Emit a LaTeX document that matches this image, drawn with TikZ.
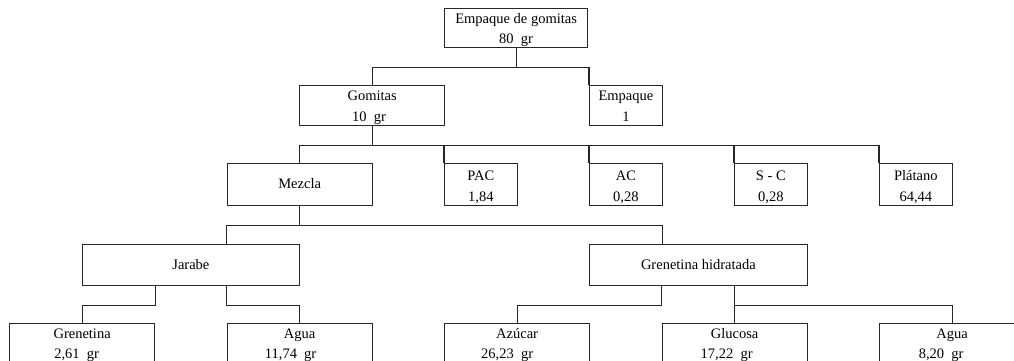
\documentclass[tikz,border=0pt]{standalone}
\usepackage{fontspec}
\setmainfont{Liberation Serif}
\newcommand\fsz{\fontsize{14.5}{17}\selectfont}
\begin{document}
\begin{tikzpicture}[x=1pt,y=-1pt,
  bx/.style={draw=black!85, line width=1.25pt, inner sep=0pt, anchor=north west},
  ln/.style={draw=black!85, line width=1.25pt},
  tx/.style={font=\fsz, anchor=base, inner sep=0pt, text=black}]
\useasboundingbox (0,0) rectangle (1014,361);
\clip (0,0) rectangle (1014,361);
% boxes
\node[bx,minimum width=143pt,minimum height=39pt] (top) at (444,8) {};
\node[bx,minimum width=145pt,minimum height=40pt] (gom) at (299,85) {};
\node[bx,minimum width=72.5pt,minimum height=40pt] (emp) at (589,85) {};
\node[bx,minimum width=145pt,minimum height=42pt] (mez) at (226.5,163) {};
\node[bx,minimum width=72.5pt,minimum height=42pt] (pac) at (444,163) {};
\node[bx,minimum width=72.5pt,minimum height=42pt] (ac) at (589,163) {};
\node[bx,minimum width=72.5pt,minimum height=42pt] (sc) at (734,163) {};
\node[bx,minimum width=72.5pt,minimum height=42pt] (pla) at (879,163) {};
\node[bx,minimum width=217.5pt,minimum height=41pt] (jar) at (81.5,244) {};
\node[bx,minimum width=217.5pt,minimum height=41pt] (gh) at (589,244) {};
\node[bx,minimum width=145pt,minimum height=60pt] (gre) at (9,323) {};
\node[bx,minimum width=145pt,minimum height=60pt] (ag1) at (226.5,323) {};
\node[bx,minimum width=145pt,minimum height=60pt] (azu) at (444,323) {};
\node[bx,minimum width=145pt,minimum height=60pt] (glu) at (661.5,323) {};
\node[bx,minimum width=145pt,minimum height=60pt] (ag2) at (879,323) {};
% connectors
\draw[ln] (top.south) -- ++(0,19) coordinate (j1);
\draw[ln] (j1) -| (gom.north);
\draw[ln] (j1) -| (emp.north west);
\draw[ln] (gom.south) -- ++(0,19) coordinate (j2);
\draw[ln] (j2) -| (mez.north);
\draw[ln] (j2) -| (pac.north west);
\draw[ln] (j2) -| (ac.north west);
\draw[ln] (j2) -| (sc.north west);
\draw[ln] (j2) -| (pla.north west);
\draw[ln] (mez.south) -- ++(0,19) coordinate (j3);
\draw[ln] (j3) -| (mez.west |- jar.north);
\draw[ln] (j3) -| (ac.east |- gh.north);
\draw[ln] (gre.east |- jar.south) -- ++(0,19) -| (gre.north);
\draw[ln] (ag1.west |- jar.south) -- ++(0,19) -| (ag1.north);
\draw[ln] (glu.west |- gh.south) -- ++(0,19) -| (azu.north);
\draw[ln] (glu.north |- gh.south) -- ++(0,19) coordinate (j5) -- (glu.north);
\draw[ln] (j5) -| (ag2.north);
% texts
\node[tx] at ([yshift=-15.5pt]top.north) {Empaque de gomitas};
\node[tx] at ([yshift=-35.5pt]top.north) {80~~gr};
\node[tx] at ([yshift=-15.5pt]gom.north) {Gomitas};
\node[tx] at ([yshift=-36pt,xshift=-3pt]gom.north) {10~~gr};
\node[tx] at ([yshift=-15.5pt]emp.north) {Empaque};
\node[tx] at ([yshift=-36pt]emp.north) {1};
\node[tx] at ([yshift=-25.5pt]mez.north) {Mezcla};
\node[tx] at ([yshift=-17pt]pac.north) {PAC};
\node[tx] at ([yshift=-38pt]pac.north) {1,84};
\node[tx] at ([yshift=-17pt]ac.north) {AC};
\node[tx] at ([yshift=-38pt]ac.north) {0,28};
\node[tx] at ([yshift=-17pt]sc.north) {S - C};
\node[tx] at ([yshift=-38pt]sc.north) {0,28};
\node[tx] at ([yshift=-17pt]pla.north) {Plátano};
\node[tx] at ([yshift=-38pt]pla.north) {64,44};
\node[tx] at ([yshift=-25.5pt]jar.north) {Jarabe};
\node[tx] at ([yshift=-25.5pt]gh.north) {Grenetina hidratada};
\node[tx] at ([yshift=-15pt]gre.north) {Grenetina};
\node[tx] at ([yshift=-35pt,xshift=-5.5pt]gre.north) {2,61~~gr};
\node[tx] at ([yshift=-15pt]ag1.north) {Agua};
\node[tx] at ([yshift=-35pt,xshift=-9pt]ag1.north) {11,74~~gr};
\node[tx] at ([yshift=-15pt]azu.north) {Azúcar};
\node[tx] at ([yshift=-35pt,xshift=-10pt]azu.north) {26,23~~gr};
\node[tx] at ([yshift=-15pt]glu.north) {Glucosa};
\node[tx] at ([yshift=-35pt,xshift=-8pt]glu.north) {17,22~~gr};
\node[tx] at ([yshift=-15pt]ag2.north) {Agua};
\node[tx] at ([yshift=-35pt,xshift=-11pt]ag2.north) {8,20~~gr};
\end{tikzpicture}
\end{document}
